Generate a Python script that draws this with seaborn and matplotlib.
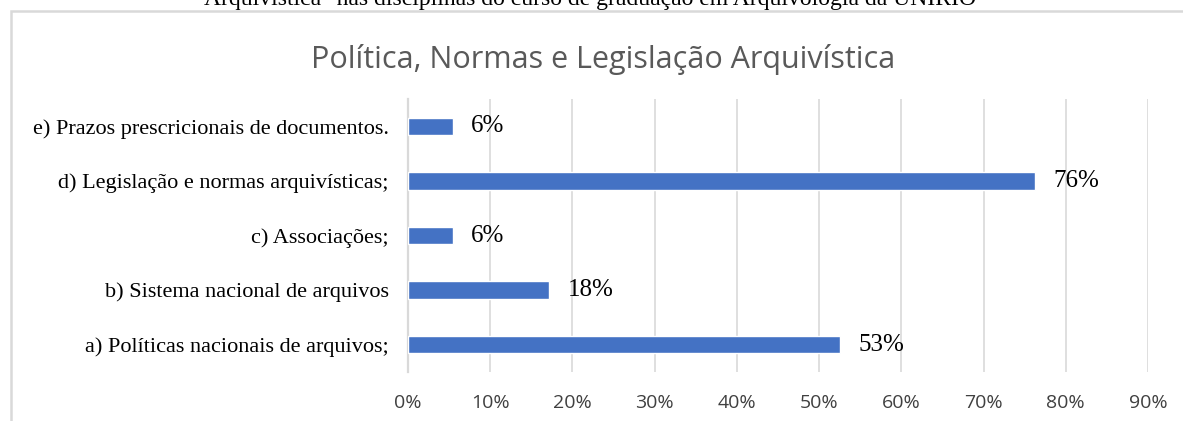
import matplotlib
matplotlib.use("Agg")
import matplotlib.pyplot as plt
from matplotlib.patches import Rectangle
from matplotlib.ticker import PercentFormatter, FixedLocator
import seaborn as sns

sns.set_style("white")
plt.rcParams['font.family'] = ['Liberation Serif', 'DejaVu Sans']

# data, top to bottom as shown
categories = [
    "e) Prazos prescricionais de documentos.",
    "d) Legislação e normas arquivísticas;",
    "c) Associações;",
    "b) Sistema nacional de arquivos",
    "a) Políticas nacionais de arquivos;",
]
values = [5.5, 76.3, 5.5, 17.2, 52.6]
value_labels = ["6%", "76%", "6%", "18%", "53%"]
xticks = [0, 10, 20, 30, 40, 50, 60, 70, 80, 90]

title = "Política, Normas e Legislação Arquivística"
caption = 'Arquivística" nas disciplinas do curso de graduação em Arquivologia da UNIRIO'

W, H = 1183, 421
fig = plt.figure(figsize=(W / 100, H / 100), dpi=100)
ax = fig.add_axes([408 / W, 1 - 372 / H, (1148 - 408) / W, (372 - 99) / H])

grid_c = "#d9d9d9"
sns.barplot(x=values, y=categories, orient="h", color="#4472c4",
            width=0.32, saturation=1, ax=ax, zorder=3)

ax.set_xlim(0, 90)
ax.xaxis.set_major_locator(FixedLocator(xticks))
ax.xaxis.set_major_formatter(PercentFormatter(decimals=0))
ax.grid(axis="x", color=grid_c, linewidth=1.2, zorder=0)
ax.set_axisbelow(True)
for s in ["top", "right", "bottom"]:
    ax.spines[s].set_visible(False)
ax.spines["left"].set_color(grid_c)
ax.spines["left"].set_linewidth(1.6)

ax.tick_params(axis="x", length=0, pad=16, labelsize=14, labelcolor="#404040")
for lab in ax.get_xticklabels():
    lab.set_fontfamily(["Open Sans", "DejaVu Sans"])
ax.tick_params(axis="y", which="major", length=0, pad=14, labelsize=16, labelcolor="black")
ax.set_yticks([i + 0.5 for i in range(-1, len(categories))], minor=True)
ax.tick_params(axis="y", which="minor", length=5, width=1.4, color=grid_c)
ax.set_xlabel("")
ax.set_ylabel("")

for i, (v, t) in enumerate(zip(values, value_labels)):
    ax.annotate(t, xy=(v, i), xytext=(13, 0), textcoords="offset points",
                ha="left", va="center", fontsize=18, color="black", zorder=5)

fig.text(603 / W, 1 - 68 / H, title, ha="center", va="baseline", fontsize=22,
         color="#595959", family=["Open Sans", "DejaVu Sans"])
fig.text(590 / W, 1 - 4.5 / H, caption, ha="center", va="baseline", fontsize=17,
         color="black")

fig.add_artist(Rectangle((11 / W, -0.2), 1.2, 1.2 - 10.5 / H,
                         transform=fig.transFigure, fill=False,
                         edgecolor=grid_c, linewidth=1.8))

fig.savefig("out.png", dpi=100)
